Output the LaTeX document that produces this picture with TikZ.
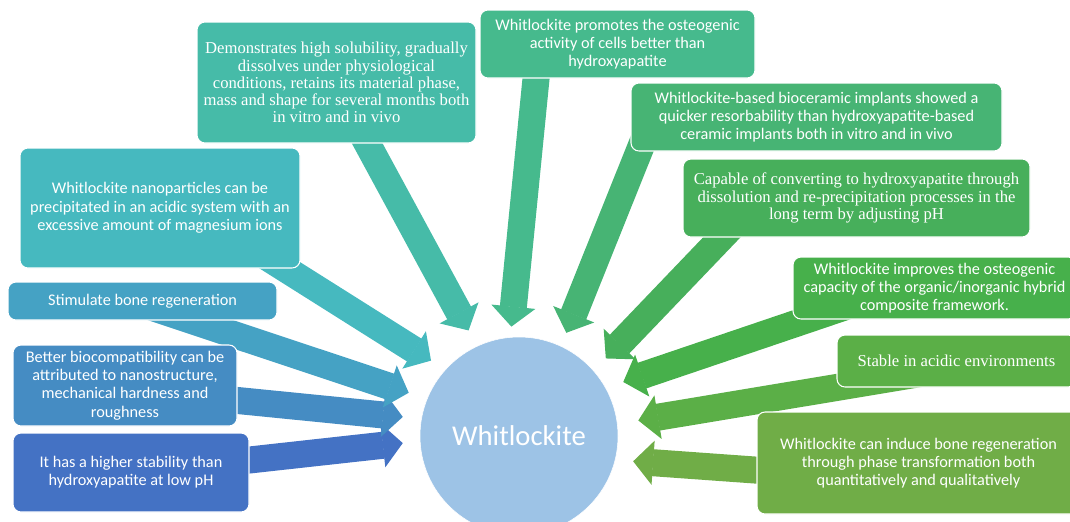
\documentclass[tikz,border=0pt]{standalone}
\usepackage{fontspec}
\setmainfont{Carlito}
\newfontfamily\timesfont{Liberation Serif}
\definecolor{wblue}{HTML}{4472C4}
\definecolor{wsteel}{HTML}{458CC3}
\definecolor{wsky}{HTML}{45A2C4}
\definecolor{wcyan}{HTML}{46B9BF}
\definecolor{wteal}{HTML}{46BBA8}
\definecolor{wjade}{HTML}{46BA8D}
\definecolor{wmint}{HTML}{47B474}
\definecolor{wleaf}{HTML}{47AF5B}
\definecolor{wgreen}{HTML}{47B04B}
\definecolor{wgrass}{HTML}{5BAF47}
\definecolor{wolive}{HTML}{70AD47}
\definecolor{hubblue}{HTML}{9DC3E6}
\usepackage{tikz}
\usetikzlibrary{arrows.meta, backgrounds}

\tikzset{
  fact/.style={draw=white, line width=0.8pt, rounded corners=6pt, inner sep=0pt,
    align=center, text=white, font=\fontsize{12.2}{13.7}\selectfont},
  factserif/.style={fact, font=\timesfont\fontsize{12.5}{12.9}\selectfont},
  feed/.style={line width=20.25pt, -{Triangle[width=33pt, length=15pt, line width=1pt]}}
}

\begin{document}
\begin{tikzpicture}[x=0.75pt, y=-0.75pt]
  \useasboundingbox (0,0) rectangle (1070,521);
  \clip (0,0) rectangle (1070,521);

  \node[circle, fill=hubblue, draw=white, minimum size=148.5pt, inner sep=0pt,
    text=white, font=\fontsize{21.5}{25}\selectfont] (hub) at (519,436) {Whitlockite};

  % left side
  \node[fact, fill=wcyan, minimum width=210pt, minimum height=90pt] (nano) at (160,208)
    {Whitlockite nanoparticles can be\\ precipitated in an acidic system with an\\ excessive amount of magnesium ions};
  \node[fact, fill=wsky, minimum width=201.75pt, minimum height=28.5pt] (stim) at (142.5,301)
    {Stimulate bone regeneration};
  \node[fact, fill=wsteel, minimum width=168pt, minimum height=60.75pt] (biocomp) at (125,385.5)
    {Better biocompatibility can be\\ attributed to nanostructure,\\ mechanical hardness and\\ roughness};
  \node[fact, fill=wblue, minimum width=177pt, minimum height=59.25pt] (stab) at (131,472.5)
    {It has a higher stability than\\ hydroxyapatite at low pH};

  % top
  \node[factserif, fill=wteal, minimum width=209.25pt, minimum height=90.75pt] (solub) at (336.5,82.5)
    {Demonstrates high solubility, gradually\\ dissolves under physiological\\ conditions, retains its material phase,\\ mass and shape for several months both\\ in vitro and in vivo};
  \node[fact, fill=wjade, minimum width=206.25pt, minimum height=51pt] (osteo) at (617.5,44)
    {Whitlockite promotes the osteogenic\\ activity of cells better than\\ hydroxyapatite};

  % right side
  \node[fact, fill=wmint, minimum width=278.25pt, minimum height=51pt] (resorb) at (816.5,117)
    {Whitlockite-based bioceramic implants showed a\\ quicker resorbability than hydroxyapatite-based\\ ceramic implants both in vitro and in vivo};
  \node[factserif, fill=wleaf, minimum width=260.25pt, minimum height=58.5pt] (convert) at (856.5,198)
    {Capable of converting to hydroxyapatite through\\ dissolution and re-precipitation processes in the\\ long term by adjusting pH};
  \node[fact, fill=wgreen, minimum width=212.25pt, minimum height=46.5pt] (hybrid) at (934.5,288)
    {Whitlockite improves the osteogenic\\ capacity of the organic/inorganic hybrid\\ composite framework.};
  \node[factserif, fill=wgrass, minimum width=179.25pt, minimum height=39pt] (acidic) at (956.5,361)
    {Stable in acidic environments};
  \node[fact, fill=wolive, minimum width=242.25pt, minimum height=76.5pt] (induce) at (918.5,463)
    {Whitlockite can induce bone regeneration\\ through phase transformation both\\ quantitatively and qualitatively};

  \begin{scope}[on background layer]
    \foreach \src/\off/\ang/\gap/\col in {
      stab.east/{(-30,-9.2)}/183/12.9/wblue,
      biocomp.east/{(-30,12)}/170/13.9/wsteel,
      stim.center/{(-15.5,-2)}/158.1/14.4/wsky,
      nano.south east/{(-50,-21.7)}/138.2/12.6/wcyan,
      solub.south/{(14.5,-30)}/115.5/13.3/wteal,
      osteo.south/{(-78.5,-30)}/95.2/7.9/wjade,
      resorb.south west/{(31,-56)}/65.1/10.7/wmint,
      convert.south west/{(65,-27)}/41.6/12.9/wleaf,
      hybrid.south west/{(80,-22)}/29/13.8/wgreen,
      acidic.south west/{(132,-22)}/7.3/15.8/wgrass,
      induce.west/{(40,10)}/346.2/13.4/wolive}
      \draw[feed, color=\col, shorten >=\gap pt] ([shift={\off}]\src) -- (hub.\ang);
  \end{scope}
\end{tikzpicture}
\end{document}
